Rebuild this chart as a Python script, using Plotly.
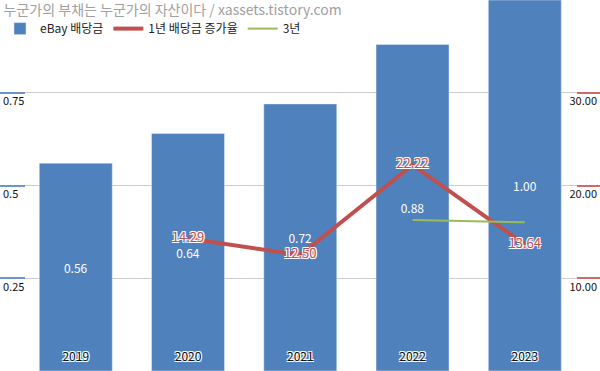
import plotly.graph_objects as go

years = ["2019", "2020", "2021", "2022", "2023"]
dividend = [0.56, 0.64, 0.72, 0.88, 1.00]
growth_years = ["2020", "2021", "2022", "2023"]
growth_1y = [14.29, 12.50, 22.22, 13.64]
cagr_years = ["2022", "2023"]
cagr_3y = [16.28, 16.04]

left_ticks = [0, 0.25, 0.5, 0.75, 1.0]
left_text = ["", "0.25", "0.5", "0.75", ""]
right_ticks = [0, 10, 20, 30, 40]
right_text = ["", "10.00", "20.00", "30.00", ""]

FONT = "Noto Sans CJK KR, Noto Sans, sans-serif"
BLUE = "#4f81bd"
RED = "#c0504d"
GREEN = "#9bbb59"
outline = "-1px -1px 0 #fff, 1px -1px 0 #fff, -1px 1px 0 #fff, 1px 1px 0 #fff"

fig = go.Figure()
fig.add_trace(go.Bar(
    x=years, y=dividend, name="eBay 배당금", marker_color=BLUE, width=0.65,
    text=[f"{v:.2f}" for v in dividend], textposition="inside",
    insidetextanchor="middle", textangle=0,
    textfont=dict(color="white", size=12, family=FONT),
    yaxis="y",
))
fig.add_trace(go.Scatter(
    x=growth_years, y=growth_1y, name="1년 배당금 증가율", mode="lines+text",
    line=dict(color=RED, width=4),
    text=[f"{v:.2f}" for v in growth_1y], textposition="middle center",
    textfont=dict(color=RED, size=13, family=FONT, shadow=outline),
    yaxis="y2",
))
fig.add_trace(go.Scatter(
    x=cagr_years, y=cagr_3y, name="3년", mode="lines",
    line=dict(color=GREEN, width=2),
    yaxis="y2",
))

fig.update_layout(
    width=600, height=371,
    margin=dict(l=0, r=0, t=0, b=0),
    paper_bgcolor="white", plot_bgcolor="white",
    font=dict(family=FONT, size=12, color="#222"),
    bargap=0.35,
    title=dict(text="누군가의 부채는 누군가의 자산이다 / xassets.tistory.com",
               x=0.006, xanchor="left", y=0.985, yanchor="top",
               font=dict(size=14, color="#a0a0a0", family=FONT)),
    legend=dict(orientation="h", x=0.0, xanchor="left", y=0.962, yanchor="top",
                bgcolor="rgba(0,0,0,0)", font=dict(size=12, color="#222"),
                itemwidth=30, tracegroupgap=0),
    xaxis=dict(range=[-0.675, 4.67], showgrid=False, showline=False,
               ticks="", ticklabelposition="inside", ticklabelstandoff=5,
               tickfont=dict(size=12, color="#111", family=FONT, shadow=outline)),
    yaxis=dict(range=[0, 1.0], tickvals=left_ticks, ticktext=left_text,
               showgrid=True, gridcolor="#cccccc", gridwidth=1, zeroline=False,
               ticks="inside", ticklen=25, tickcolor="#6b94c8", tickwidth=2,
               ticklabelposition="inside bottom",
               tickfont=dict(size=11, color="#111")),
    yaxis2=dict(range=[0, 40], tickvals=right_ticks, ticktext=right_text,
                overlaying="y", side="right", showgrid=False, zeroline=False,
                ticks="inside", ticklen=23, tickcolor="#d06a66", tickwidth=2,
                ticklabelposition="inside bottom",
                tickfont=dict(size=11, color="#111")),
)

fig.write_html("out.html")
